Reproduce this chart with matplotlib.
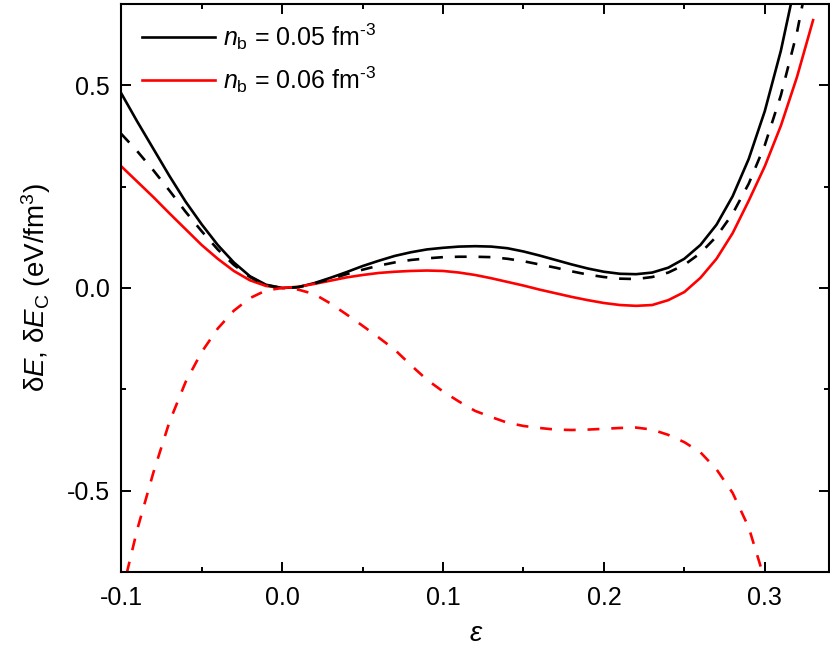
import numpy as np
import matplotlib
matplotlib.use("Agg")
import matplotlib.pyplot as plt
from matplotlib.ticker import MultipleLocator, FormatStrFormatter

plt.rcParams['font.family'] = ['Liberation Sans', 'DejaVu Sans']
plt.rcParams['mathtext.fontset'] = 'custom'
plt.rcParams['mathtext.rm'] = 'Liberation Sans'
plt.rcParams['mathtext.it'] = 'Liberation Sans:italic'
plt.rcParams['axes.unicode_minus'] = False

# strain values
eps = [-0.10, -0.09, -0.08, -0.07, -0.06, -0.05, -0.04, -0.03, -0.02, -0.01,
       0.00, 0.01, 0.02, 0.03, 0.04, 0.05, 0.06, 0.07, 0.08, 0.09,
       0.10, 0.11, 0.12, 0.13, 0.14, 0.15, 0.16, 0.17, 0.18, 0.19,
       0.20, 0.21, 0.22, 0.23, 0.24, 0.25, 0.26, 0.27, 0.28, 0.29,
       0.30, 0.31, 0.32, 0.33]

# n_b = 0.05 fm^-3, total deformation energy (solid black)
dE_005 = [0.480, 0.410, 0.343, 0.276, 0.213, 0.157, 0.106, 0.063, 0.029, 0.008,
          0.000, 0.002, 0.012, 0.025, 0.039, 0.054, 0.067, 0.079, 0.088, 0.095,
          0.099, 0.102, 0.103, 0.102, 0.098, 0.090, 0.080, 0.069, 0.058, 0.048,
          0.040, 0.035, 0.034, 0.038, 0.050, 0.072, 0.106, 0.156, 0.226, 0.318,
          0.436, 0.585, 0.770, 1.000]

# n_b = 0.05 fm^-3, Coulomb part (dashed black)
dEc_005 = [0.380, 0.337, 0.290, 0.240, 0.188, 0.140, 0.095, 0.057, 0.027, 0.007,
           0.000, 0.002, 0.011, 0.022, 0.034, 0.045, 0.055, 0.063, 0.069, 0.073,
           0.076, 0.077, 0.077, 0.076, 0.072, 0.066, 0.058, 0.050, 0.041, 0.033,
           0.027, 0.023, 0.022, 0.027, 0.038, 0.057, 0.086, 0.127, 0.183, 0.257,
           0.352, 0.475, 0.630, 0.830]

# n_b = 0.06 fm^-3, total deformation energy (solid red)
dE_006 = [0.300, 0.262, 0.224, 0.184, 0.145, 0.106, 0.072, 0.042, 0.019, 0.005,
          0.000, 0.003, 0.010, 0.018, 0.026, 0.032, 0.037, 0.040, 0.042, 0.043,
          0.042, 0.038, 0.032, 0.024, 0.015, 0.006, -0.004, -0.013, -0.022, -0.030,
          -0.037, -0.042, -0.044, -0.042, -0.030, -0.010, 0.025, 0.072, 0.135, 0.215,
          0.300, 0.400, 0.520, 0.660]

# n_b = 0.06 fm^-3, Coulomb part (dashed red)
eps_c = eps[:41]
dEc_006 = [-0.760, -0.595, -0.455, -0.330, -0.232, -0.158, -0.100, -0.056, -0.025, -0.006,
           0.000, -0.004, -0.015, -0.038, -0.065, -0.093, -0.122, -0.152, -0.190, -0.226,
           -0.255, -0.280, -0.303, -0.318, -0.332, -0.340, -0.345, -0.349, -0.350, -0.349,
           -0.347, -0.345, -0.344, -0.349, -0.362, -0.380, -0.405, -0.447, -0.505, -0.590,
           -0.720]

fig = plt.figure(figsize=(8.3, 6.56), dpi=100)
ax = fig.add_axes([0.146, 0.128, 0.853, 0.866])

lw = 1.9
ax.plot(eps, dE_005, color='black', lw=lw, label=r'$n_\mathrm{b}$ = 0.05 fm$^{\text{-3}}$')
ax.plot(eps, dE_006, color='#ff0000', lw=lw, label=r'$n_\mathrm{b}$ = 0.06 fm$^{\text{-3}}$')
ax.plot(eps, dEc_005, color='black', lw=lw, dashes=(4.5, 4.5))
ax.plot(eps_c, dEc_006, color='#ff0000', lw=lw, dashes=(4.5, 4.5))

ax.set_xlim(-0.1, 0.34)
ax.set_ylim(-0.7, 0.7)
ax.xaxis.set_major_locator(MultipleLocator(0.1))
ax.xaxis.set_minor_locator(MultipleLocator(0.05))
ax.yaxis.set_major_locator(MultipleLocator(0.5))
ax.yaxis.set_minor_locator(MultipleLocator(0.25))
ax.xaxis.set_major_formatter(FormatStrFormatter('%.1f'))
ax.yaxis.set_major_formatter(FormatStrFormatter('%.1f'))

ax.tick_params(which='both', direction='in', top=True, right=True, width=1.4, labelsize=18)
ax.tick_params(which='major', length=7)
ax.tick_params(which='minor', length=3.5)
ax.tick_params(axis='x', pad=10)
ax.tick_params(axis='y', pad=8)
for s in ax.spines.values():
    s.set_linewidth(1.5)

ax.set_xlabel('ε', fontsize=20, style='italic', labelpad=8)
ax.set_ylabel(r'δ$E$, δ$E_\mathrm{C}$ (eV/fm$^3$)', fontsize=20, labelpad=10)

ax.legend(loc='upper left', frameon=False, fontsize=18, handlelength=2.9,
          handletextpad=0.35, labelspacing=0.5, borderaxespad=0.3,
          bbox_to_anchor=(0.005, 1.0))

fig.savefig('out.png', dpi=100)
